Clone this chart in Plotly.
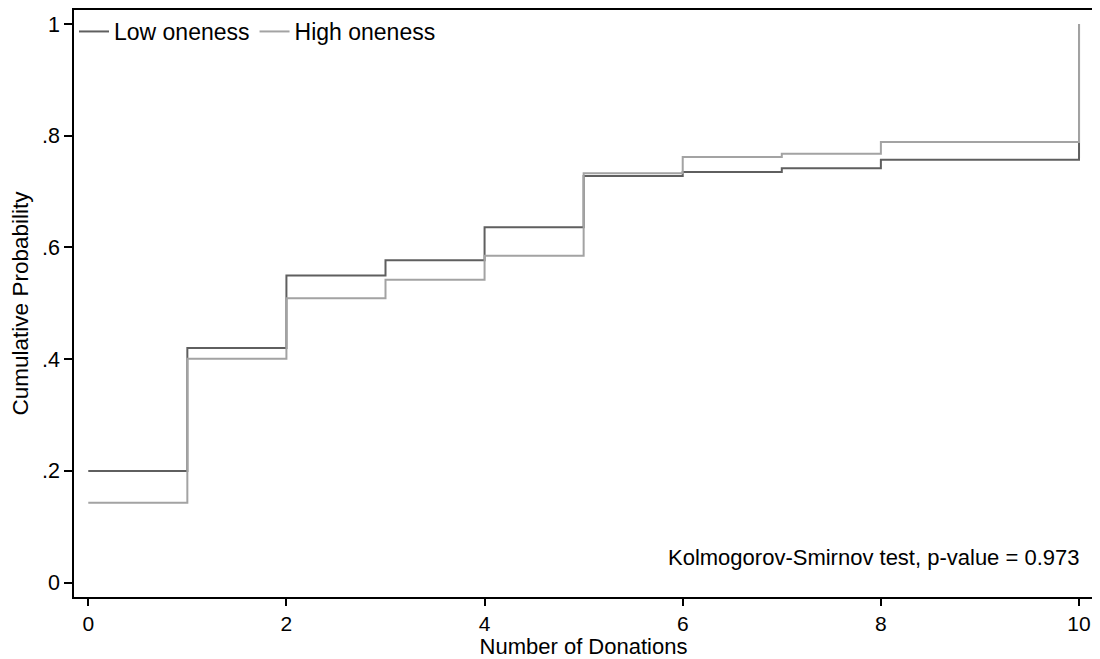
import plotly.graph_objects as go

donations = [0, 1, 2, 3, 4, 5, 6, 7, 8, 10]
low_oneness = [0.200, 0.420, 0.550, 0.577, 0.636, 0.728, 0.735, 0.742, 0.757, 1.0]
high_oneness = [0.143, 0.401, 0.509, 0.542, 0.585, 0.733, 0.762, 0.768, 0.789, 1.0]
x_ticks = [0, 2, 4, 6, 8, 10]
y_ticks = [0, 0.2, 0.4, 0.6, 0.8, 1]
y_tick_labels = ["0", ".2", ".4", ".6", ".8", "1"]

font = "Liberation Sans, Arial, Helvetica, sans-serif"

fig = go.Figure()
fig.add_trace(go.Scatter(x=donations, y=low_oneness, mode="lines", line_shape="hv",
                         line=dict(color="#5f5f5f", width=2), name="Low oneness"))
fig.add_trace(go.Scatter(x=donations, y=high_oneness, mode="lines", line_shape="hv",
                         line=dict(color="#a3a3a3", width=2), name="High oneness"))

fig.add_annotation(text="Kolmogorov-Smirnov test, p-value = 0.973", x=1.0, y=0.0,
                   xref="paper", yref="paper", xanchor="right", yanchor="bottom",
                   xshift=-12, yshift=25, showarrow=False,
                   font=dict(size=22, color="black", family=font))

# page body has an 8px default margin; compensate so the figure fills the 1100x659 window
fig.update_layout(
    width=1092, height=651,
    margin=dict(l=66, r=7, t=2, b=62),
    paper_bgcolor="white", plot_bgcolor="white",
    font=dict(family=font, size=21, color="black"),
    showlegend=True,
    legend=dict(orientation="h", x=0.0, y=1.0, xanchor="left", yanchor="top",
                bgcolor="rgba(0,0,0,0)", font=dict(size=23),
                tracegroupgap=0),
    xaxis=dict(range=[-0.144, 10.141], tickvals=x_ticks, ticks="outside", ticklen=7,
               tickwidth=1.5, tickcolor="black", showline=True, linecolor="black",
               linewidth=1.5, mirror=True, showgrid=False, zeroline=False,
               automargin=False, tickfont=dict(size=21),
               title=dict(text="Number of Donations", standoff=5, font=dict(size=22))),
    yaxis=dict(range=[-0.0258, 1.0252], tickvals=y_ticks, ticktext=y_tick_labels,
               ticks="outside", ticklen=8, tickwidth=1.5, tickcolor="black",
               showline=True, linecolor="black", linewidth=1.5, mirror=True,
               showgrid=False, zeroline=False, automargin=False,
               tickfont=dict(size=21.5),
               title=dict(text="Cumulative Probability", standoff=10, font=dict(size=22.5))),
)

fig.write_html("out.html")
